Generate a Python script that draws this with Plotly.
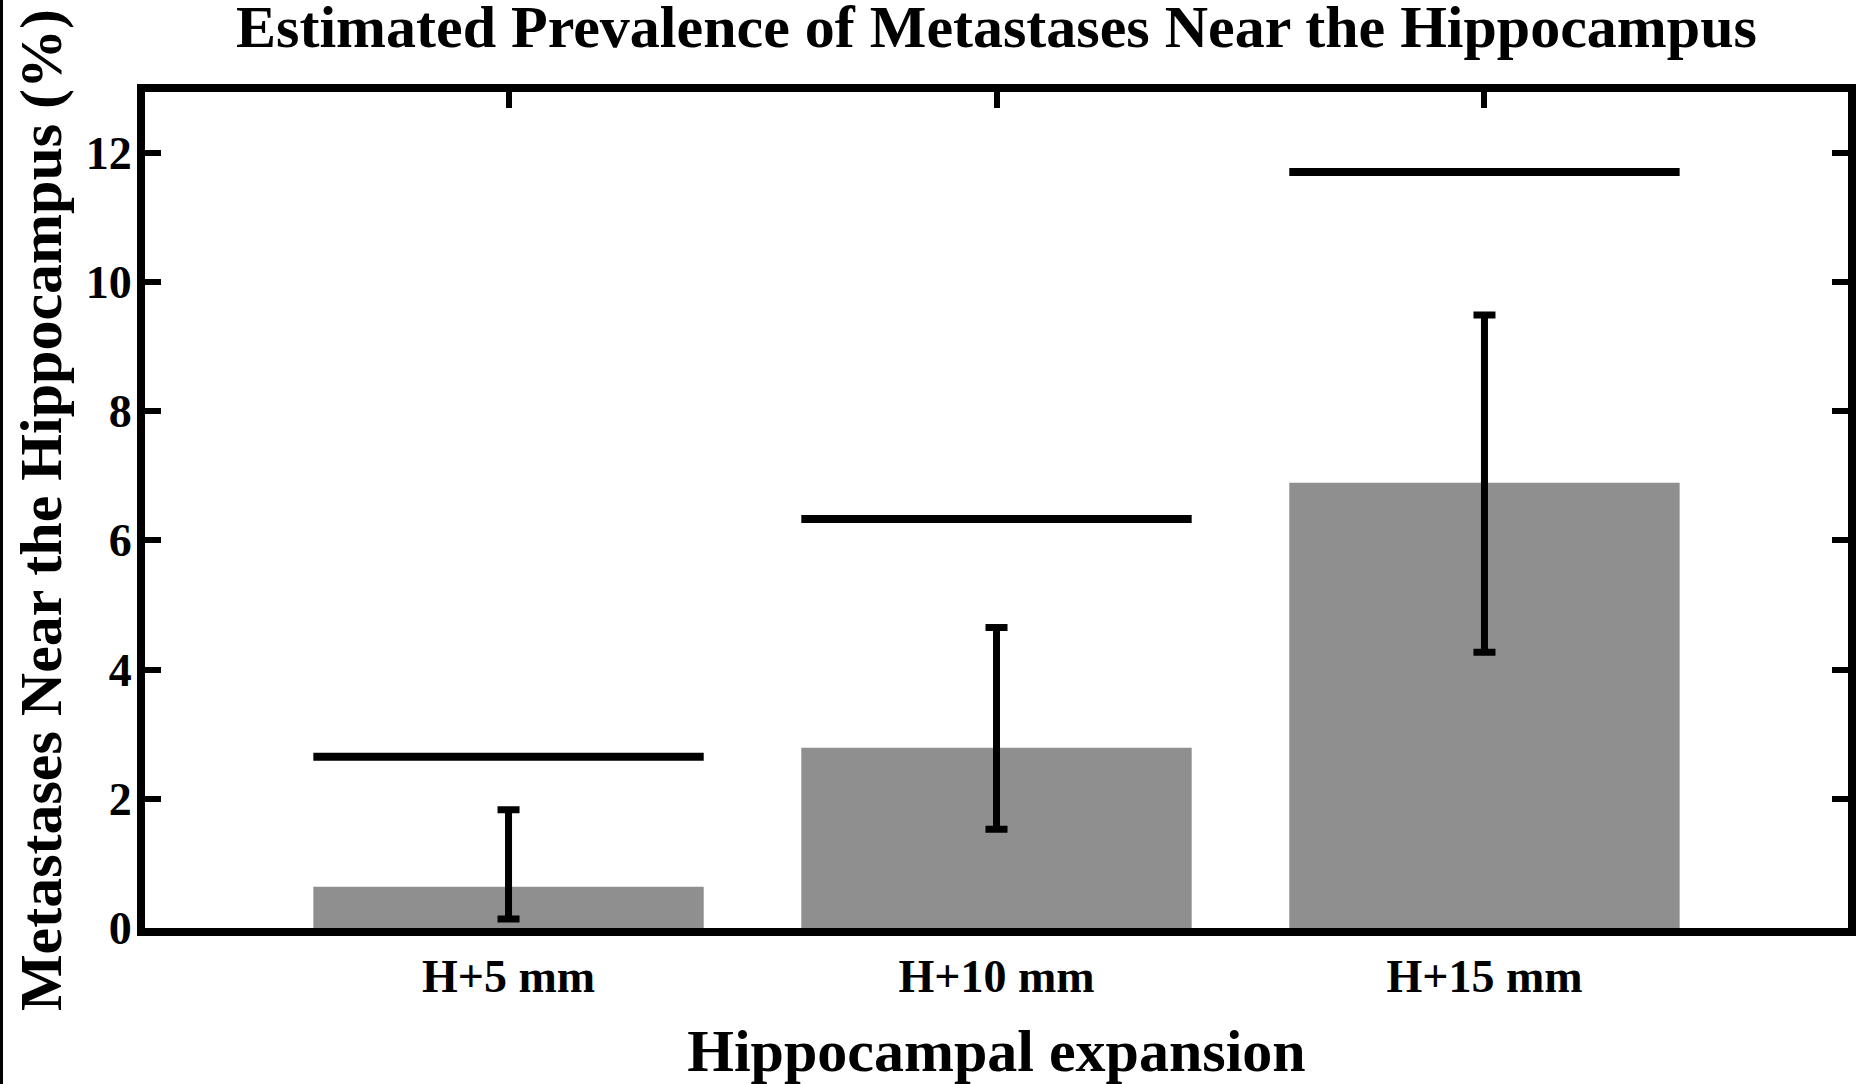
import plotly.graph_objects as go

# ---- data ----
categories = ["H+5 mm", "H+10 mm", "H+15 mm"]
positions = [1, 2, 3]
prevalence = [0.64, 2.79, 6.89]
ci_low = [0.14, 1.53, 4.27]
ci_high = [1.83, 4.65, 9.49]
upper_line = [2.65, 6.33, 11.70]
y_ticks = [0, 2, 4, 6, 8, 10, 12]

BAR_W = 0.8
FONT = "Liberation Serif"
X_RANGE = [0.255, 3.745]

fig = go.Figure()

fig.add_trace(go.Bar(
    x=positions, y=prevalence, width=BAR_W,
    marker=dict(color="#8f8f8f", line=dict(width=0)),
    error_y=dict(type="data", symmetric=False,
                 array=[h - v for h, v in zip(ci_high, prevalence)],
                 arrayminus=[v - l for v, l in zip(prevalence, ci_low)],
                 color="black", thickness=7, width=11),
    showlegend=False, hoverinfo="skip",
))

# horizontal reference lines above each bar
lx, ly = [], []
for p, v in zip(positions, upper_line):
    lx += [p - BAR_W / 2, p + BAR_W / 2, None]
    ly += [v, v, None]
fig.add_trace(go.Scatter(x=lx, y=ly, mode="lines",
                         line=dict(color="black", width=8),
                         showlegend=False, hoverinfo="skip"))

# invisible trace to anchor the top tick axis
fig.add_trace(go.Scatter(x=positions, y=prevalence, xaxis="x2", mode="markers",
                         marker=dict(opacity=0), showlegend=False, hoverinfo="skip"))

tickfont = dict(family=FONT, size=46, color="black")

fig.update_layout(
    width=1858, height=1084,
    margin=dict(l=145, r=10, t=92, b=156, autoexpand=False),
    paper_bgcolor="white", plot_bgcolor="white",
    font=dict(family=FONT, color="black"),
    title=dict(text="<b>Estimated Prevalence of Metastases Near the Hippocampus</b>",
               font=dict(family=FONT, size=60, color="black"),
               x=0.5, xanchor="center", xref="paper",
               y=0.976, yanchor="middle", yref="container", automargin=False),
    xaxis=dict(range=X_RANGE, tickvals=positions,
               ticktext=[f"<b>{c}</b>" for c in categories],
               showline=True, linecolor="black", linewidth=8, mirror=True,
               ticks="", showgrid=False, zeroline=False, tickfont=tickfont,
               automargin=False,
               title=dict(text="<b>Hippocampal expansion</b>",
                          font=dict(family=FONT, size=60, color="black"), standoff=35),
               ticklabelstandoff=1),
    xaxis2=dict(range=X_RANGE, tickvals=positions, overlaying="x", side="top",
                showticklabels=False, showline=False, showgrid=False, zeroline=False,
                automargin=False,
                ticks="inside", tickcolor="black", tickwidth=6, ticklen=16),
    yaxis=dict(range=[0, 12.94], tickvals=y_ticks,
               ticktext=[f"<b>{t}</b>" for t in y_ticks],
               showline=True, linecolor="black", linewidth=8, mirror="ticks",
               ticks="inside", tickcolor="black", tickwidth=6, ticklen=16,
               showgrid=False, zeroline=False, tickfont=tickfont,
               automargin=False,
               title=dict(text="<b>Metastases Near the Hippocampus (%)</b>",
                          font=dict(family=FONT, size=60, color="black"), standoff=8),
               ticklabelstandoff=-4),
    shapes=[dict(type="line", xref="paper", yref="paper",
                 xsizemode="pixel", ysizemode="pixel", xanchor=0, yanchor=0,
                 x0=-143.5, x1=-143.5, y0=-170, y1=950,
                 line=dict(color="black", width=3))],
)

fig.write_html("out.html", post_script="document.body.style.margin='0';",
               config={"displayModeBar": False})
